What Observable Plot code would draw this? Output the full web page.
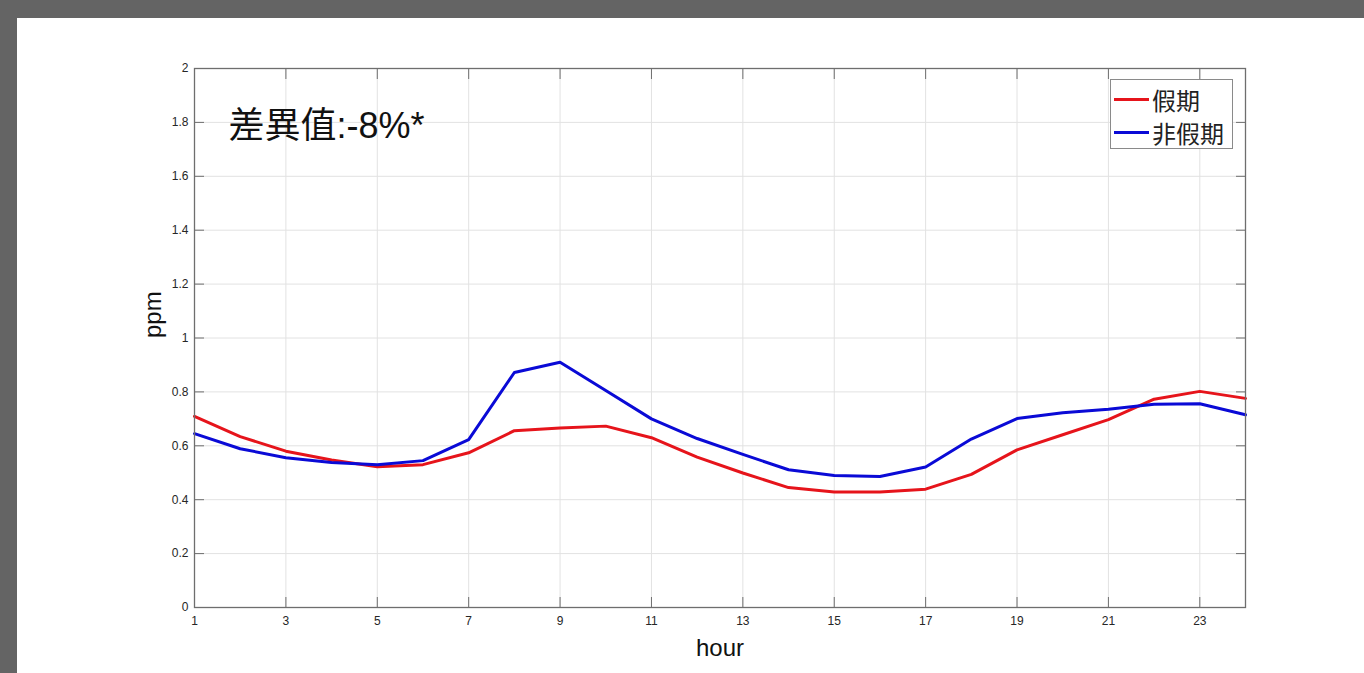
<!DOCTYPE html>
<html>
<head>
<meta charset="utf-8">
<script src="https://cdn.jsdelivr.net/npm/d3@7"></script>
<script src="https://cdn.jsdelivr.net/npm/@observablehq/plot@0.6"></script>
<style>
html, body { margin: 0; padding: 0; width: 1364px; height: 673px; overflow: hidden; background: #646464; }
#panel { position: absolute; left: 17px; top: 18px; width: 1347px; height: 655px; background: #ffffff; }
#chart { position: absolute; left: 0; top: 0; }
#legend { position: absolute; left: 1093px; top: 61px; width: 123px; height: 70px; box-sizing: border-box;
  border: 1.3px solid #8a8a8a; background: #fff; padding-top: 3px; }
.row { display: flex; align-items: center; height: 33px; }
.sw { display: inline-block; width: 35px; height: 3px; margin-left: 3px; margin-right: 3px; }
.lab { font-family: "Noto Sans CJK TC", "Noto Sans CJK SC", sans-serif; font-size: 24px; color: #222; line-height: 33px; }
</style>
</head>
<body>
<div id="panel">
  <div id="chart"></div>
  <div id="legend"></div>
</div>
<script>
// ---- data ----
const hours = [1,2,3,4,5,6,7,8,9,10,11,12,13,14,15,16,17,18,19,20,21,22,23,24];
const holiday = [0.709,0.634,0.580,0.547,0.522,0.530,0.574,0.656,0.666,0.673,0.630,0.558,0.499,0.445,0.429,0.429,0.439,0.494,0.585,0.641,0.697,0.773,0.802,0.776];
const nonHoliday = [0.645,0.589,0.556,0.538,0.530,0.545,0.623,0.872,0.910,0.805,0.700,0.627,0.568,0.511,0.490,0.486,0.521,0.625,0.701,0.723,0.736,0.754,0.756,0.715];
const seriesNames = ["假期", "非假期"];
const seriesColors = ["#e6141b", "#0a0ad6"];
const xTicks = [1,3,5,7,9,11,13,15,17,19,21,23];
const xTickLabels = ["1","3","5","7","9","11","13","15","17","19","21","23"];
const yTicks = [0,0.2,0.4,0.6,0.8,1,1.2,1.4,1.6,1.8,2];
const yTickLabels = ["0","0.2","0.4","0.6","0.8","1","1.2","1.4","1.6","1.8","2"];
const xLabel = "hour";
const yLabel = "ppm";
const note = "差異值:-8%*";

const rows = [];
hours.forEach((h, i) => {
  rows.push({hour: h, value: holiday[i], series: seriesNames[0]});
});
hours.forEach((h, i) => {
  rows.push({hour: h, value: nonHoliday[i], series: seriesNames[1]});
});

const axisColor = "#6e6e6e";
const gridColor = "#e2e2e2";
const latin = "'Liberation Sans', Arial, 'Noto Sans CJK TC', sans-serif";

const chart = Plot.plot({
  width: 1347,
  height: 655,
  marginLeft: 177,
  marginRight: 119,
  marginTop: 50,
  marginBottom: 66,
  x: {domain: [1, 24]},
  y: {domain: [0, 2]},
  color: {domain: seriesNames, range: seriesColors},
  style: {background: "transparent", fontFamily: latin, fontSize: "12px", color: "#262626"},
  marks: [
    Plot.gridX(xTicks, {stroke: gridColor, strokeOpacity: 1}),
    Plot.gridY(yTicks, {stroke: gridColor, strokeOpacity: 1}),
    Plot.line(rows, {x: "hour", y: "value", z: "series", stroke: "series", strokeWidth: 3, curve: "linear"}),
    Plot.frame({stroke: axisColor, strokeWidth: 1.3}),
    Plot.axisX(xTicks, {anchor: "bottom", tickSize: -10, tickFormat: () => "", label: null, stroke: axisColor}),
    Plot.axisX(xTicks, {anchor: "top", tickSize: -10, tickFormat: () => "", label: null, stroke: axisColor}),
    Plot.axisX(xTicks, {anchor: "bottom", tickSize: 0, tickPadding: 9, label: null, fill: "#262626",
      fontSize: 12, fontFamily: latin, tickFormat: d => xTickLabels[xTicks.indexOf(d)]}),
    Plot.axisY(yTicks, {anchor: "left", tickSize: -10, tickFormat: () => "", label: null, stroke: axisColor}),
    Plot.axisY(yTicks, {anchor: "right", tickSize: -10, tickFormat: () => "", label: null, stroke: axisColor}),
    Plot.axisY(yTicks, {anchor: "left", tickSize: 0, tickPadding: 6, label: null, fill: "#262626",
      fontSize: 12, fontFamily: latin, tickFormat: d => yTickLabels[yTicks.indexOf(d)]}),
    Plot.text([xLabel], {text: d => d, frameAnchor: "bottom", dy: 41, lineAnchor: "middle",
      fontSize: 24, fill: "#111", fontFamily: latin}),
    Plot.text([yLabel], {text: d => d, frameAnchor: "left", dx: -41, rotate: -90, lineAnchor: "middle",
      fontSize: 24, fill: "#111", fontFamily: latin}),
    Plot.text([note], {text: d => d, frameAnchor: "top-left", dx: 34, dy: 58, textAnchor: "start",
      lineAnchor: "middle", fontSize: 36, fill: "#111", fontFamily: latin})
  ]
});
document.getElementById("chart").appendChild(chart);

const legend = document.getElementById("legend");
seriesNames.forEach((name, i) => {
  const row = document.createElement("div");
  row.className = "row";
  const sw = document.createElement("span");
  sw.className = "sw";
  sw.style.background = seriesColors[i];
  const lab = document.createElement("span");
  lab.className = "lab";
  lab.textContent = name;
  row.appendChild(sw);
  row.appendChild(lab);
  legend.appendChild(row);
});
</script>
</body>
</html>
